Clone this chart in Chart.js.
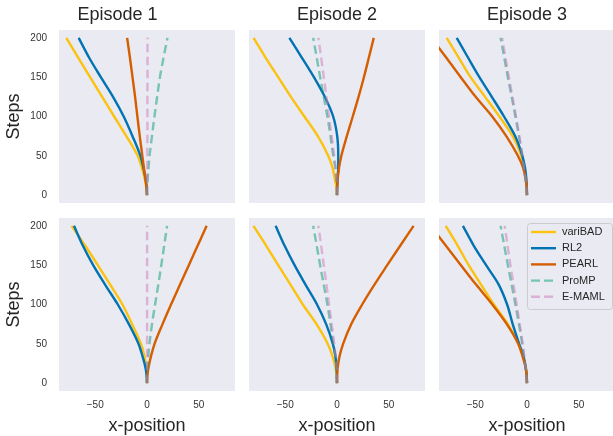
<!DOCTYPE html>
<html>
<head>
<meta charset="utf-8">
<script src="https://cdn.jsdelivr.net/npm/chart.js@4.4.1/dist/chart.umd.min.js"></script>
<style>
  html, body { margin: 0; padding: 0; background: #fff; overflow: hidden; }
  body { width: 613px; height: 436px; position: relative; }
  canvas { position: absolute; }
</style>
</head>
<body>
<script>
// steps at which the x-position of each trajectory is read
const STEPS = [0, 10, 20, 35, 50, 75, 100, 125, 150, 175, 200];
const EPISODES = ['Episode 1', 'Episode 2', 'Episode 3'];
const METHODS = ['variBAD', 'RL2', 'PEARL', 'ProMP', 'E-MAML'];
const X_TICKS = [-50, 0, 50];
const Y_TICKS = [0, 50, 100, 150, 200];

// top row: one array per episode
const varibadTop = [
  [0, -0.7, -2, -5, -9, -20, -31.7, -43.3, -55, -66.5, -78],
  [0, -0.6, -2, -4.3, -8.5, -18.5, -31.5, -44.5, -56.8, -69, -80.6],
  [0, -0.3, -1, -2.9, -5.5, -13.8, -26.7, -40.5, -54.5, -66, -77.6]
];
const rl2Top = [
  [0, -0.3, -1.2, -3.5, -6.4, -14, -22.5, -32.8, -44.6, -56, -66],
  [0, 0.2, 0.5, 1.2, 1.2, 0.2, -3.7, -11.8, -22.3, -34, -46],
  [0, -0.2, -0.6, -1.9, -4.5, -11.4, -22.2, -34, -46, -57, -67.9]
];
const pearlTop = [
  [0, -0.5, -1.5, -3, -4.5, -7, -9.3, -11.5, -14, -16.5, -19.2],
  [0, 0.2, 0.6, 2, 4.2, 9.5, 15.2, 20.8, 26, 30.8, 35.5],
  [0, -0.3, -1.2, -3.8, -8.8, -20, -33.6, -49.6, -64, -78.1, -92.2]
];
const prompTop = [
  [0, 0.2, 0.6, 1.5, 2.5, 4.8, 7.2, 9.8, 12.5, 16, 19.8],
  [0, -0.3, -0.7, -1.6, -3.6, -6.3, -9.3, -12.8, -16.3, -19.6, -23],
  [0, -0.6, -1.5, -3, -4.6, -7.8, -11.2, -14.8, -18.5, -22, -25.5]
];
const emamlTop = [
  [0, 0.1, 0.2, 0.3, 0.3, 0.4, 0.4, 0.4, 0.5, 0.5, 0.5],
  [0, -0.2, -0.6, -1.4, -2.7, -5.2, -7.7, -10.2, -12.8, -15.3, -18],
  [0, -0.6, -1.4, -2.9, -4.4, -7.4, -10.6, -14, -17.5, -20.8, -24]
];

// bottom row
const varibadBottom = [
  [0, -0.2, -0.8, -2.6, -5.8, -14.4, -23.7, -35.4, -47.5, -59.8, -72.8],
  [0, -0.4, -1.5, -4.5, -9, -19.8, -33, -44.8, -56.8, -68.5, -80.7],
  [0, -0.3, -1.2, -3.7, -8.2, -18.5, -32, -44.2, -56.3, -67, -78.5]
];
const rl2Bottom = [
  [0, -0.4, -1.5, -4.5, -8.2, -17.5, -28.2, -40.4, -52, -62, -70.5],
  [0, -0.1, -0.4, -1.6, -4, -10.5, -19.3, -30.3, -41, -50.7, -59.3],
  [0, -0.3, -1.2, -3.6, -7.6, -13.8, -19.2, -27.2, -39.5, -51.5, -61.9]
];
const pearlBottom = [
  [0, 0.4, 1.5, 4, 7.3, 15, 23.2, 31.8, 40.4, 49, 57.6],
  [0, 0.2, 0.7, 2.6, 5.9, 13.7, 24.3, 36, 48.5, 61.2, 74],
  [0, -0.4, -1.4, -4.5, -8.5, -19.5, -33.5, -49, -63.8, -78.5, -93]
];
const prompBottom = [
  [0, 0.2, 0.5, 1.3, 2.4, 4.8, 7.8, 10.9, 13.8, 16.6, 19.4],
  [0, -0.3, -0.7, -1.6, -3.6, -6.3, -9.3, -12.8, -16.3, -19.6, -23],
  [0, -0.6, -1.5, -3, -4.6, -7.8, -11.2, -14.8, -18.5, -22, -25.5]
];
const emamlBottom = [
  [0, 0.1, 0.1, 0.1, 0.1, 0.1, 0.1, 0.1, 0.1, 0.1, 0.1],
  [0, -0.2, -0.6, -1.4, -2.7, -5.2, -7.7, -10.2, -12.8, -15.3, -18],
  [0, -0.6, -1.4, -2.8, -4.2, -7, -10, -13, -16, -18.8, -21.5]
];

const ROWS = [
  [varibadTop, rl2Top, pearlTop, prompTop, emamlTop],
  [varibadBottom, rl2Bottom, pearlBottom, prompBottom, emamlBottom]
];

const COLORS = ['#FBC20F', '#0173B2', '#D55E00', 'rgba(2,158,115,0.5)', 'rgba(204,120,188,0.5)'];
const DASHED = [false, false, false, true, true];
const FONT = '"Liberation Sans", Arial, sans-serif';

const COL_LEFT = [59, 249, 439];
const ROW_TOP = [30, 218];
const PW = 176, PH = 173;

// grey axes background like seaborn "dark"
const panelBg = {
  id: 'panelBg',
  beforeDraw(chart) {
    const a = chart.chartArea, ctx = chart.ctx;
    ctx.save();
    ctx.fillStyle = '#EAEAF2';
    ctx.fillRect(a.left, a.top, a.right - a.left, a.bottom - a.top);
    ctx.restore();
  }
};

// legend box drawn inside the last panel, top right
const legendBox = {
  id: 'legendBox',
  afterDraw(chart) {
    const a = chart.chartArea, ctx = chart.ctx;
    const w = 85, h = 86;
    const x0 = a.right - 3 - w, y0 = a.top + 5;
    ctx.save();
    ctx.beginPath();
    ctx.roundRect(x0 + 0.5, y0 + 0.5, w, h, 3);
    ctx.fillStyle = 'rgba(234,234,242,0.8)';
    ctx.fill();
    ctx.strokeStyle = '#CCCCCC';
    ctx.lineWidth = 1;
    ctx.stroke();
    ctx.font = '11px ' + FONT;
    ctx.textBaseline = 'middle';
    METHODS.forEach((m, i) => {
      const y = y0 + 9 + i * 16.2;
      ctx.beginPath();
      ctx.setLineDash(DASHED[i] ? [9, 4] : []);
      ctx.strokeStyle = COLORS[i];
      ctx.lineWidth = 2.4;
      ctx.moveTo(x0 + 4, y);
      ctx.lineTo(x0 + 29, y);
      ctx.stroke();
      ctx.setLineDash([]);
      ctx.fillStyle = '#262626';
      ctx.fillText(m, x0 + 35, y);
    });
    ctx.restore();
  }
};

function minus(v) {
  return String(v).replace('-', '\u2212');
}

for (let r = 0; r < 2; r++) {
  for (let c = 0; c < 3; c++) {
    const cv = document.createElement('canvas');
    const left = c === 0 ? 0 : COL_LEFT[c];
    const top = r === 0 ? 0 : ROW_TOP[1];
    const w = c === 0 ? COL_LEFT[0] + PW : PW;
    const h = r === 0 ? ROW_TOP[0] + PH : PH + 45;
    cv.width = w;
    cv.height = h;
    cv.style.left = left + 'px';
    cv.style.top = top + 'px';
    cv.style.width = w + 'px';
    cv.style.height = h + 'px';
    document.body.appendChild(cv);

    const showX = r === 1, showY = c === 0;

    const datasets = METHODS.map((m, i) => ({
      label: m,
      data: STEPS.map((s, k) => ({ x: ROWS[r][i][c][k], y: s })),
      borderColor: COLORS[i],
      borderDash: DASHED[i] ? [8.5, 4.5] : [],
      borderWidth: 2.4,
      pointRadius: 0,
      cubicInterpolationMode: 'monotone',
      fill: false,
      order: 4 - i
    }));

    new Chart(cv, {
      type: 'line',
      data: { datasets: datasets },
      plugins: r === 1 && c === 2 ? [panelBg, legendBox] : [panelBg],
      options: {
        responsive: false,
        animation: false,
        indexAxis: 'y',
        layout: { padding: 0 },
        plugins: {
          legend: { display: false },
          tooltip: { enabled: false },
          title: {
            display: r === 0,
            text: EPISODES[c],
            color: '#262626',
            font: { family: FONT, size: 18, weight: 'normal', lineHeight: 1 },
            padding: { top: 6, bottom: 6 }
          }
        },
        scales: {
          x: {
            type: 'linear',
            min: -85,
            max: 85,
            display: showX,
            grid: { display: false, drawTicks: false },
            border: { display: false },
            afterBuildTicks: s => { s.ticks = X_TICKS.map(v => ({ value: v })); },
            afterFit: s => {
              s.height = showX ? 45 : 0;
              s.paddingLeft = 0;
              s.paddingRight = 0;
            },
            ticks: {
              padding: 8,
              color: '#333333',
              font: { family: FONT, size: 10 },
              callback: v => minus(v)
            },
            title: {
              display: true,
              text: 'x-position',
              color: '#262626',
              font: { family: FONT, size: 18, lineHeight: 1 },
              padding: { top: 0, bottom: 1 }
            }
          },
          y: {
            type: 'linear',
            min: -10,
            max: 210,
            display: showY,
            grid: { display: false, drawTicks: false },
            border: { display: false },
            afterBuildTicks: s => { s.ticks = Y_TICKS.map(v => ({ value: v })); },
            afterFit: s => {
              s.width = showY ? COL_LEFT[0] : 0;
              s.paddingTop = 0;
              s.paddingBottom = 0;
            },
            ticks: {
              padding: 12,
              color: '#333333',
              font: { family: FONT, size: 10 }
            },
            title: {
              display: true,
              text: 'Steps',
              color: '#262626',
              font: { family: FONT, size: 18, lineHeight: 1 },
              padding: { top: 5, bottom: 0 }
            }
          }
        }
      }
    });
  }
}
</script>
</body>
</html>
